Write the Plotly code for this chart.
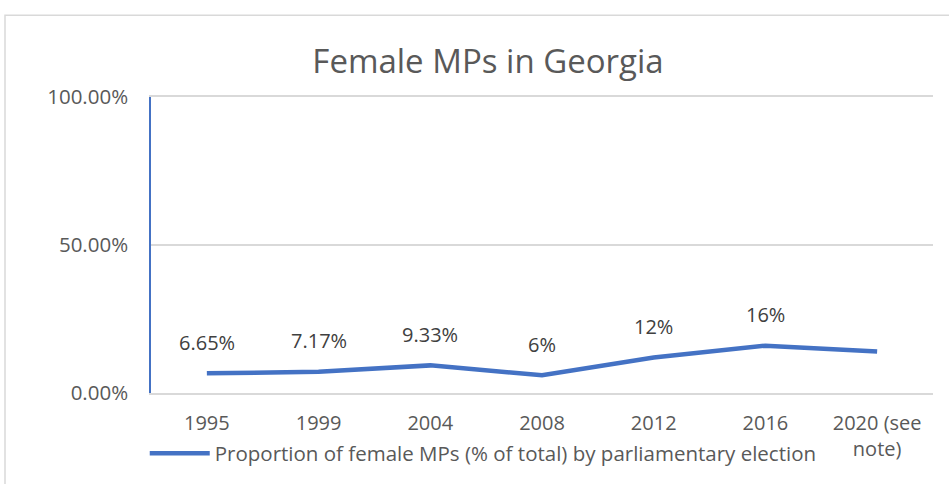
import plotly.graph_objects as go

years = ["1995", "1999", "2004", "2008", "2012", "2016", "2020 (see<br>note)"]
values = [0.0665, 0.0717, 0.0933, 0.06, 0.12, 0.16, 0.14]
labels = ["6.65%", "7.17%", "9.33%", "6%", "12%", "16%", ""]
series_name = "Proportion of female MPs (% of total) by parliamentary election"
y_ticks = [0, 0.5, 1.0]
y_tick_text = ["0.00%", "50.00%", "100.00%"]

FONT = "Open Sans"
BLUE = "#4472C4"
GREY_TXT = "#595959"

xs = list(range(len(years)))

fig = go.Figure()
fig.add_trace(go.Scatter(
    x=xs, y=values, mode="lines", name=series_name,
    line=dict(color=BLUE, width=4.5),
    hoverinfo="skip",
))

annotations = []
for x, v, t in zip(xs, values, labels):
    if t:
        annotations.append(dict(
            x=x, y=v, xref="x", yref="y", text=t, showarrow=False,
            yshift=31, yanchor="middle",
            font=dict(family=FONT, size=20, color="#404040"),
        ))

fig.update_layout(
    width=949, height=484,
    margin=dict(l=151, r=16, t=97, b=90),
    paper_bgcolor="white", plot_bgcolor="white",
    title=dict(text="Female MPs in Georgia", x=488/949, xanchor="center",
               xref="container", yref="container", y=1-61/484, yanchor="middle",
               font=dict(family=FONT, size=33, color=GREY_TXT)),
    font=dict(family=FONT, size=20, color=GREY_TXT),
    showlegend=True,
    legend=dict(orientation="h", x=-0.008, xanchor="left", y=-0.2, yanchor="middle",
                xref="paper", yref="paper",
                font=dict(family=FONT, size=20.5, color=GREY_TXT),
                bgcolor="rgba(0,0,0,0)", itemwidth=60),
    annotations=annotations,
    shapes=[dict(type="rect", xref="paper", yref="paper",
                 x0=(5-151)/782, x1=1.2, y0=-0.5, y1=(394-15)/297,
                 line=dict(color="#d9d9d9", width=1.5), fillcolor="rgba(0,0,0,0)", layer="below")],
)

fig.update_xaxes(
    range=[-0.5, len(years)-0.5], tickvals=xs, ticktext=years,
    showgrid=False, zeroline=False, showline=True, linecolor="#d9d9d9", linewidth=1.5,
    mirror=True, ticks="",
    ticklabelstandoff=11,
    tickfont=dict(family=FONT, size=20, color=GREY_TXT), fixedrange=True,
)
fig.update_yaxes(
    range=[0, 1.0], tickvals=y_ticks, ticktext=y_tick_text,
    showgrid=True, gridcolor="#d9d9d9", gridwidth=1.5, zeroline=False,
    showline=True, linecolor=BLUE, linewidth=1.5, ticks="",
    ticklabelstandoff=17,
    tickfont=dict(family=FONT, size=20.5, color=GREY_TXT), fixedrange=True,
)

fig.write_html("out.html")
